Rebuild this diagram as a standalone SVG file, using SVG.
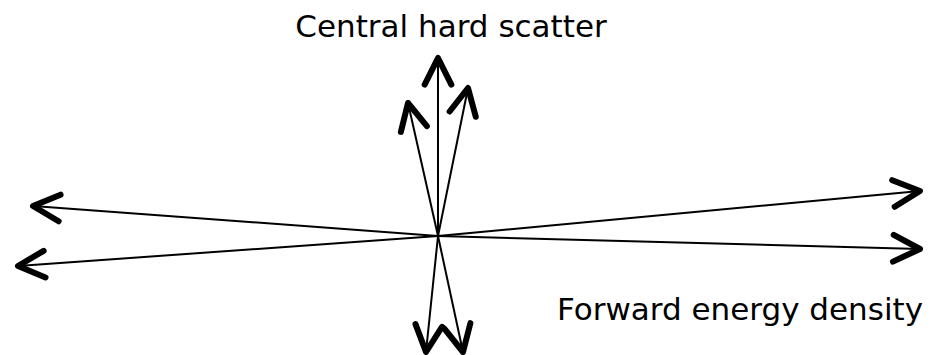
<svg xmlns="http://www.w3.org/2000/svg" width="941" height="355" viewBox="0 0 941 355">
<style>
.ln{stroke:#000;stroke-width:2;fill:none;marker-end:url(#ah)}
.lbl{font-family:"DejaVu Sans",Verdana,sans-serif;font-size:31px;fill:#000}
</style>
<defs>
<marker id="ah" markerUnits="userSpaceOnUse" orient="auto" markerWidth="40" markerHeight="40" viewBox="-25 -15 30 30" refX="0" refY="0" overflow="visible">
<path d="M-20,-10 L0,0 L-20,10" fill="none" stroke="#000" stroke-width="4.5" stroke-linecap="round" stroke-linejoin="round"/>
</marker>
</defs>
<rect width="941" height="355" fill="#fff"/>
<g id="connectors">
<line class="ln" x1="438" y1="236" x2="438" y2="58"/>
<line class="ln" x1="438" y1="236" x2="408" y2="103"/>
<line class="ln" x1="438" y1="236" x2="468" y2="88"/>
<line class="ln" x1="438" y1="236" x2="33" y2="206"/>
<line class="ln" x1="438" y1="236" x2="18" y2="266"/>
<line class="ln" x1="438" y1="236" x2="920" y2="191"/>
<line class="ln" x1="438" y1="236" x2="920" y2="249"/>
<line class="ln" x1="438" y1="236" x2="426" y2="352"/>
<line class="ln" x1="438" y1="236" x2="463" y2="352"/>
</g>
<g id="label-central">
<text class="lbl" x="451" y="37" text-anchor="middle">Central hard scatter</text>
</g>
<g id="label-forward">
<text class="lbl" x="740" y="320" text-anchor="middle">Forward energy density</text>
</g>
</svg>
